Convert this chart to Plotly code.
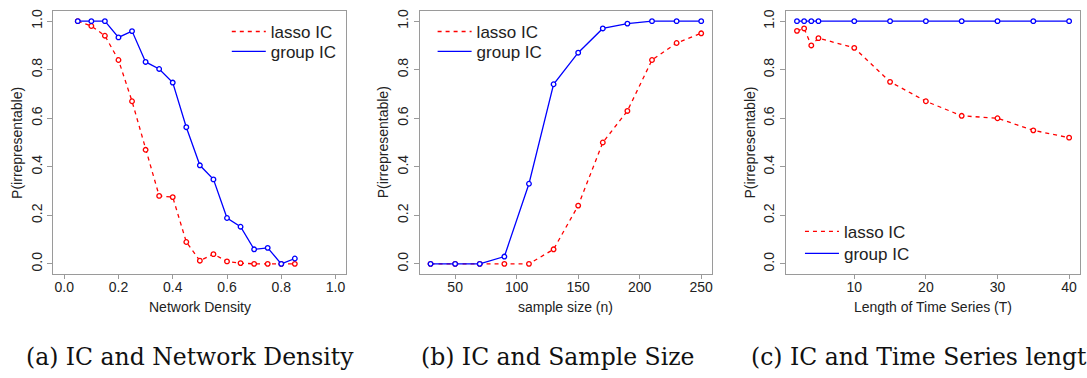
import plotly.graph_objects as go

# ---------------- data ----------------
density = [0.05, 0.10, 0.15, 0.20, 0.25, 0.30, 0.35, 0.40, 0.45, 0.50,
           0.55, 0.60, 0.65, 0.70, 0.75, 0.80, 0.85]
density_lasso = [1.00, 0.98, 0.94, 0.84, 0.67, 0.47, 0.28, 0.275, 0.09, 0.013,
                 0.04, 0.01, 0.003, 0.0, 0.0, 0.0, 0.0]
density_group = [1.00, 1.00, 1.00, 0.933, 0.959, 0.832, 0.803, 0.747, 0.563, 0.406,
                 0.348, 0.189, 0.153, 0.060, 0.066, 0.0, 0.022]

sample_size = [30, 50, 70, 90, 110, 130, 150, 170, 190, 210, 230, 250]
sample_lasso = [0.0, 0.0, 0.0, 0.0, 0.0, 0.06, 0.24, 0.50, 0.63, 0.84, 0.91, 0.95]
sample_group = [0.0, 0.0, 0.0, 0.03, 0.33, 0.74, 0.87, 0.97, 0.99, 1.00, 1.00, 1.00]

ts_length = [2, 3, 4, 5, 10, 15, 20, 25, 30, 35, 40]
ts_lasso = [0.96, 0.97, 0.90, 0.93, 0.89, 0.75, 0.67, 0.61, 0.60, 0.55, 0.52]
ts_group = [1.00, 1.00, 1.00, 1.00, 1.00, 1.00, 1.00, 1.00, 1.00, 1.00, 1.00]

series_names = ["lasso IC", "group IC"]
x_titles = ["Network Density", "sample size (n)", "Length of Time Series (T)"]
y_title = "P(irrepresentable)"
captions = ["(a) IC and Network Density", "(b) IC and Sample Size",
            "(c) IC and Time Series length"]
y_ticks = [0.0, 0.2, 0.4, 0.6, 0.8, 1.0]
x_ticks = [[0.0, 0.2, 0.4, 0.6, 0.8, 1.0], [50, 100, 150, 200, 250], [10, 20, 30, 40]]

# ---------------- style ----------------
W, H = 1087, 378
RED, BLUE = "#FF0000", "#0000FF"
BOX = "#9a9a9a"
TXT = "#222222"
SANS = "Liberation Sans, Arial, sans-serif"
SERIF = "DejaVu Serif, serif"

def px_x(p):
    return p / W

def px_y(p):
    return 1 - p / H

box_px = [(53.4, 346.7), (420.1, 712.7), (786.8, 1081.0)]
box_top, box_bot = 9.5, 273.0
x_ranges = [[-0.04, 1.04], [21.2, 258.8], [0.48, 41.52]]
y_range = [-0.04, 1.04]

panels = [
    (density, density_lasso, density_group),
    (sample_size, sample_lasso, sample_group),
    (ts_length, ts_lasso, ts_group),
]

# key line start (px) and row centres (px) for each panel
legend_x = [228, 434, 801.7]
legend_rows = [(32, 52), (32, 52), (233, 255)]
LEG_SHIFT_X = -1   # legend left relative to reference key-line start
LEG_OFF_Y = 20     # legend top -> first row centre

fig = go.Figure()

lg_index = 0
for i, (xs, lasso, group) in enumerate(panels):
    xa = "x" if i == 0 else f"x{i+1}"
    ya = "y" if i == 0 else f"y{i+1}"
    fig.add_trace(go.Scatter(
        x=xs, y=lasso, mode="lines+markers", xaxis=xa, yaxis=ya,
        line=dict(color=RED, width=1.3, dash="4px,4px"),
        marker=dict(symbol="circle", size=4.6, color="white",
                    line=dict(color=RED, width=1.3)),
        showlegend=False, name=series_names[0]))
    fig.add_trace(go.Scatter(
        x=xs, y=group, mode="lines+markers", xaxis=xa, yaxis=ya,
        line=dict(color=BLUE, width=1.3),
        marker=dict(symbol="circle", size=4.6, color="white",
                    line=dict(color=BLUE, width=1.3)),
        showlegend=False, name=series_names[1]))
    # legend-only entries (lines only, as in the reference key), one legend per row
    for k, (nm, col, dash) in enumerate([(series_names[0], RED, "4px,4px"),
                                         (series_names[1], BLUE, "solid")]):
        lg_index += 1
        lg = "legend" if lg_index == 1 else f"legend{lg_index}"
        fig.add_trace(go.Scatter(
            x=[None], y=[None], mode="lines", xaxis=xa, yaxis=ya,
            line=dict(color=col, width=1.3, dash=dash),
            name=nm, legend=lg))

layout = dict(
    width=W, height=H,
    margin=dict(l=0, r=0, t=0, b=0),
    paper_bgcolor="white", plot_bgcolor="white",
    font=dict(family=SANS, size=14, color=TXT),
    annotations=[],
)

lg_index = 0
for i in range(3):
    sx = "" if i == 0 else str(i + 1)
    l, r = box_px[i]
    layout[f"xaxis{sx}"] = dict(
        domain=[px_x(l), px_x(r)], range=x_ranges[i], anchor=f"y{sx}",
        showgrid=False, zeroline=False, showline=True, mirror=True,
        linecolor=BOX, linewidth=1, ticks="outside", ticklen=4,
        tickcolor=BOX, tickwidth=1, tickvals=x_ticks[i],
        tickformat=".1f" if i == 0 else "d", ticklabelstandoff=-3,
        tickfont=dict(family=SANS, size=14, color=TXT))
    layout[f"yaxis{sx}"] = dict(
        domain=[px_y(box_bot), px_y(box_top)], range=y_range, anchor=f"x{sx}",
        showgrid=False, zeroline=False, showline=True, mirror=True,
        linecolor=BOX, linewidth=1, ticks="outside", ticklen=5,
        tickcolor=BOX, tickwidth=1, tickvals=y_ticks, tickformat=".1f",
        tickangle=-90, tickfont=dict(family=SANS, size=14, color=TXT))
    for rowc in legend_rows[i]:
        lg_index += 1
        lg = "legend" if lg_index == 1 else f"legend{lg_index}"
        layout[lg] = dict(
            x=px_x(legend_x[i] + LEG_SHIFT_X), y=px_y(rowc - LEG_OFF_Y),
            xanchor="left", yanchor="top",
            bgcolor="rgba(0,0,0,0)", borderwidth=0, itemwidth=34,
            font=dict(family=SANS, size=17, color=TXT))
    # axis titles
    layout["annotations"].append(dict(
        x=px_x((l + r) / 2), y=px_y(307), xref="paper", yref="paper",
        text=x_titles[i], showarrow=False, xanchor="center", yanchor="middle",
        font=dict(family=SANS, size=14, color=TXT)))
    layout["annotations"].append(dict(
        x=px_x(l - 37), y=px_y((box_top + box_bot) / 2), xref="paper", yref="paper",
        text=y_title, showarrow=False, textangle=-90,
        xanchor="center", yanchor="middle",
        font=dict(family=SANS, size=14, color=TXT)))

# captions (the third one runs past the right edge, as in the reference)
cap_x = [(190, "center"), (558, "center"), (750, "left")]
for i, (cx, anc) in enumerate(cap_x):
    layout["annotations"].append(dict(
        x=px_x(cx), y=px_y(357), xref="paper", yref="paper",
        text=captions[i], showarrow=False, xanchor=anc, yanchor="middle",
        font=dict(family=SERIF, size=23.5, color="#111111")))

fig.update_layout(**layout)
fig.write_html("out.html", config={"displayModeBar": False},
               post_script="document.body.style.margin='0';document.body.style.padding='0';")
